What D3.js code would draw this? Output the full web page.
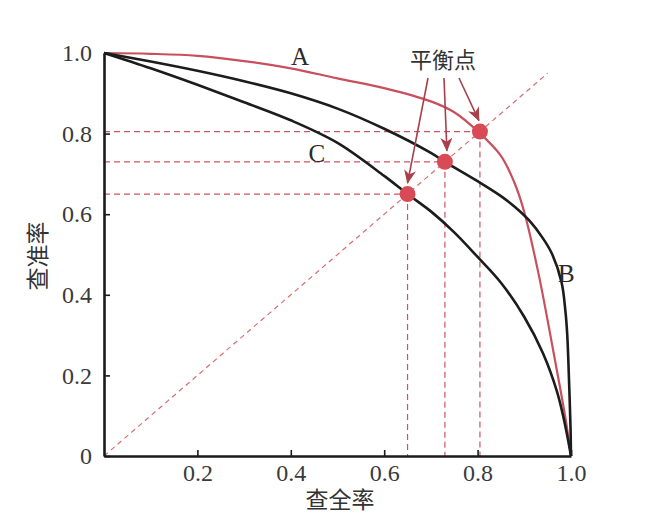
<!DOCTYPE html>
<html>
<head>
<meta charset="utf-8">
<script src="https://cdn.jsdelivr.net/npm/d3@7"></script>
<style>
  html, body { margin: 0; padding: 0; background: #fff; }
  svg { display: block; }
</style>
</head>
<body>
<svg id="chart" width="664" height="526"></svg>
<script>
// ---- data (recall = 查全率, precision = 查准率) ----
const curveARecall    = [0, 0.1, 0.2, 0.3, 0.4, 0.5, 0.6, 0.7, 0.75, 0.8, 0.85, 0.88, 0.9, 0.93, 0.955, 0.975, 0.99, 1.0];
const curveAPrecision = [1.0, 0.998, 0.993, 0.980, 0.962, 0.937, 0.913, 0.880, 0.853, 0.806, 0.745, 0.675, 0.605, 0.455, 0.305, 0.18, 0.08, 0];

const curveBRecall    = [0, 0.1, 0.2, 0.3, 0.4, 0.5, 0.6, 0.7, 0.73, 0.8, 0.85, 0.88, 0.91, 0.94, 0.96, 0.98, 0.988, 0.992, 0.996, 0.999, 1.0];
const curveBPrecision = [1.0, 0.979, 0.956, 0.930, 0.900, 0.862, 0.812, 0.752, 0.730, 0.682, 0.645, 0.618, 0.585, 0.540, 0.500, 0.430, 0.360, 0.300, 0.180, 0.070, 0];

const curveCRecall    = [0, 0.1, 0.2, 0.3, 0.4, 0.5, 0.6, 0.65, 0.7, 0.75, 0.8, 0.85, 0.9, 0.94, 0.97, 0.985, 1.0];
const curveCPrecision = [1.0, 0.962, 0.921, 0.878, 0.833, 0.777, 0.695, 0.650, 0.607, 0.555, 0.494, 0.430, 0.345, 0.255, 0.160, 0.090, 0];

const curveNames   = ["A", "B", "C"];
const curveColors  = ["#c8505c", "#1c1c1c", "#1c1c1c"];
const breakEven    = [0.805, 0.73, 0.65];   // 平衡点 for A, B, C
const labelRecall    = [0.42, 0.972, 0.456];
const labelPrecision = [0.970, 0.432, 0.730];

const xTicks = [0.2, 0.4, 0.6, 0.8, 1.0];
const yTicks = [0, 0.2, 0.4, 0.6, 0.8, 1.0];
const xTickLabels = ["0.2", "0.4", "0.6", "0.8", "1.0"];
const yTickLabels = ["0", "0.2", "0.4", "0.6", "0.8", "1.0"];
const xTitle = "查全率";
const yTitle = "查准率";
const bepTitle = "平衡点";
const diagonalEnd = 0.95;

// ---- drawing ----
const svg = d3.select("#chart");
const x = d3.scaleLinear().domain([0, 1]).range([104, 571]);
const y = d3.scaleLinear().domain([0, 1]).range([456, 53]);

const serif = "'Liberation Serif', 'DejaVu Serif', serif";
const cjk = "'Noto Sans CJK SC', 'Noto Sans CJK TC', sans-serif";
const dashRed = "#cd5561";

const defs = svg.append("defs");
defs.append("marker")
  .attr("id", "arrow")
  .attr("viewBox", "0 -6 14 12")
  .attr("refX", 13).attr("refY", 0)
  .attr("markerWidth", 14).attr("markerHeight", 12)
  .attr("markerUnits", "userSpaceOnUse")
  .attr("orient", "auto")
  .append("path")
  .attr("d", "M0,-6 L14,0 L0,6 L4,0 Z")
  .attr("fill", "#a8404c");

// diagonal
svg.append("line")
  .attr("x1", x(0)).attr("y1", y(0))
  .attr("x2", x(diagonalEnd)).attr("y2", y(diagonalEnd))
  .attr("stroke", "#d6706f").attr("stroke-width", 1.2)
  .attr("stroke-dasharray", "5,4");

// guide lines for break-even points
breakEven.forEach(v => {
  svg.append("line")
    .attr("x1", x(0)).attr("y1", y(v)).attr("x2", x(v)).attr("y2", y(v))
    .attr("stroke", dashRed).attr("stroke-width", 1.2).attr("stroke-dasharray", "6,4");
  svg.append("line")
    .attr("x1", x(v)).attr("y1", y(v)).attr("x2", x(v)).attr("y2", y(0))
    .attr("stroke", dashRed).attr("stroke-width", 1.2).attr("stroke-dasharray", "6,4");
});

// curves
const curves = [
  d3.zip(curveARecall, curveAPrecision),
  d3.zip(curveBRecall, curveBPrecision),
  d3.zip(curveCRecall, curveCPrecision)
];
const line = d3.line()
  .x(d => x(d[0])).y(d => y(d[1]))
  .curve(d3.curveCatmullRom.alpha(0.5));

curves.forEach((pts, i) => {
  svg.append("path")
    .attr("d", line(pts))
    .attr("fill", "none")
    .attr("stroke", curveColors[i])
    .attr("stroke-width", i === 0 ? 2.2 : 2.6)
    .attr("stroke-linejoin", "round");
});

// axes
const yAxis = d3.axisLeft(y).tickValues(yTicks)
  .tickFormat((d, i) => yTickLabels[i])
  .tickSizeInner(-6).tickSizeOuter(0).tickPadding(12);
const xAxis = d3.axisBottom(x).tickValues(xTicks)
  .tickFormat((d, i) => xTickLabels[i])
  .tickSizeInner(-6).tickSizeOuter(0).tickPadding(8);

const gy = svg.append("g").attr("transform", `translate(${x(0)},0)`).call(yAxis);
const gx = svg.append("g").attr("transform", `translate(0,${y(0)})`).call(xAxis);
[gx, gy].forEach(g => {
  g.select(".domain").attr("stroke", "#1a1a1a").attr("stroke-width", 2.6);
  g.selectAll(".tick line").attr("stroke", "#1a1a1a").attr("stroke-width", 1.6);
  g.selectAll(".tick text")
    .attr("font-family", serif).attr("font-size", 24).attr("fill", "#3a3a3a");
});

// break-even dots
svg.selectAll("circle.bep").data(breakEven).enter().append("circle")
  .attr("class", "bep")
  .attr("cx", d => x(d)).attr("cy", d => y(d)).attr("r", 8)
  .attr("fill", "#d94a57");

// curve labels
curveNames.forEach((n, i) => {
  svg.append("text")
    .attr("x", x(labelRecall[i])).attr("y", y(labelPrecision[i]))
    .attr("text-anchor", i === 1 ? "start" : "middle")
    .attr("font-family", serif).attr("font-size", 25).attr("fill", "#2a2a2a")
    .text(n);
});

// 平衡点 label + arrows
const labelX = 443, labelY = 68;
svg.append("text")
  .attr("x", labelX).attr("y", labelY)
  .attr("text-anchor", "middle")
  .attr("font-family", cjk).attr("font-size", 22).attr("fill", "#333")
  .text(bepTitle);

const arrowStartDx = [-15, 1, 16];
const arrowEndDx = [0, 2, -1];
const order = [2, 1, 0]; // C (leftmost), B, A
order.forEach((ci, i) => {
  const v = breakEven[ci];
  svg.append("line")
    .attr("x1", labelX + arrowStartDx[i]).attr("y1", labelY + 10)
    .attr("x2", x(v) + arrowEndDx[i]).attr("y2", y(v) - 11)
    .attr("stroke", "#a8404c").attr("stroke-width", 1.6)
    .attr("marker-end", "url(#arrow)");
});

// axis titles
svg.append("text")
  .attr("x", 340).attr("y", 508)
  .attr("text-anchor", "middle")
  .attr("font-family", cjk).attr("font-size", 23).attr("fill", "#333")
  .text(xTitle);
svg.append("text")
  .attr("transform", "translate(46,256) rotate(-90)")
  .attr("text-anchor", "middle")
  .attr("font-family", cjk).attr("font-size", 23).attr("fill", "#333")
  .text(yTitle);
</script>
</body>
</html>
